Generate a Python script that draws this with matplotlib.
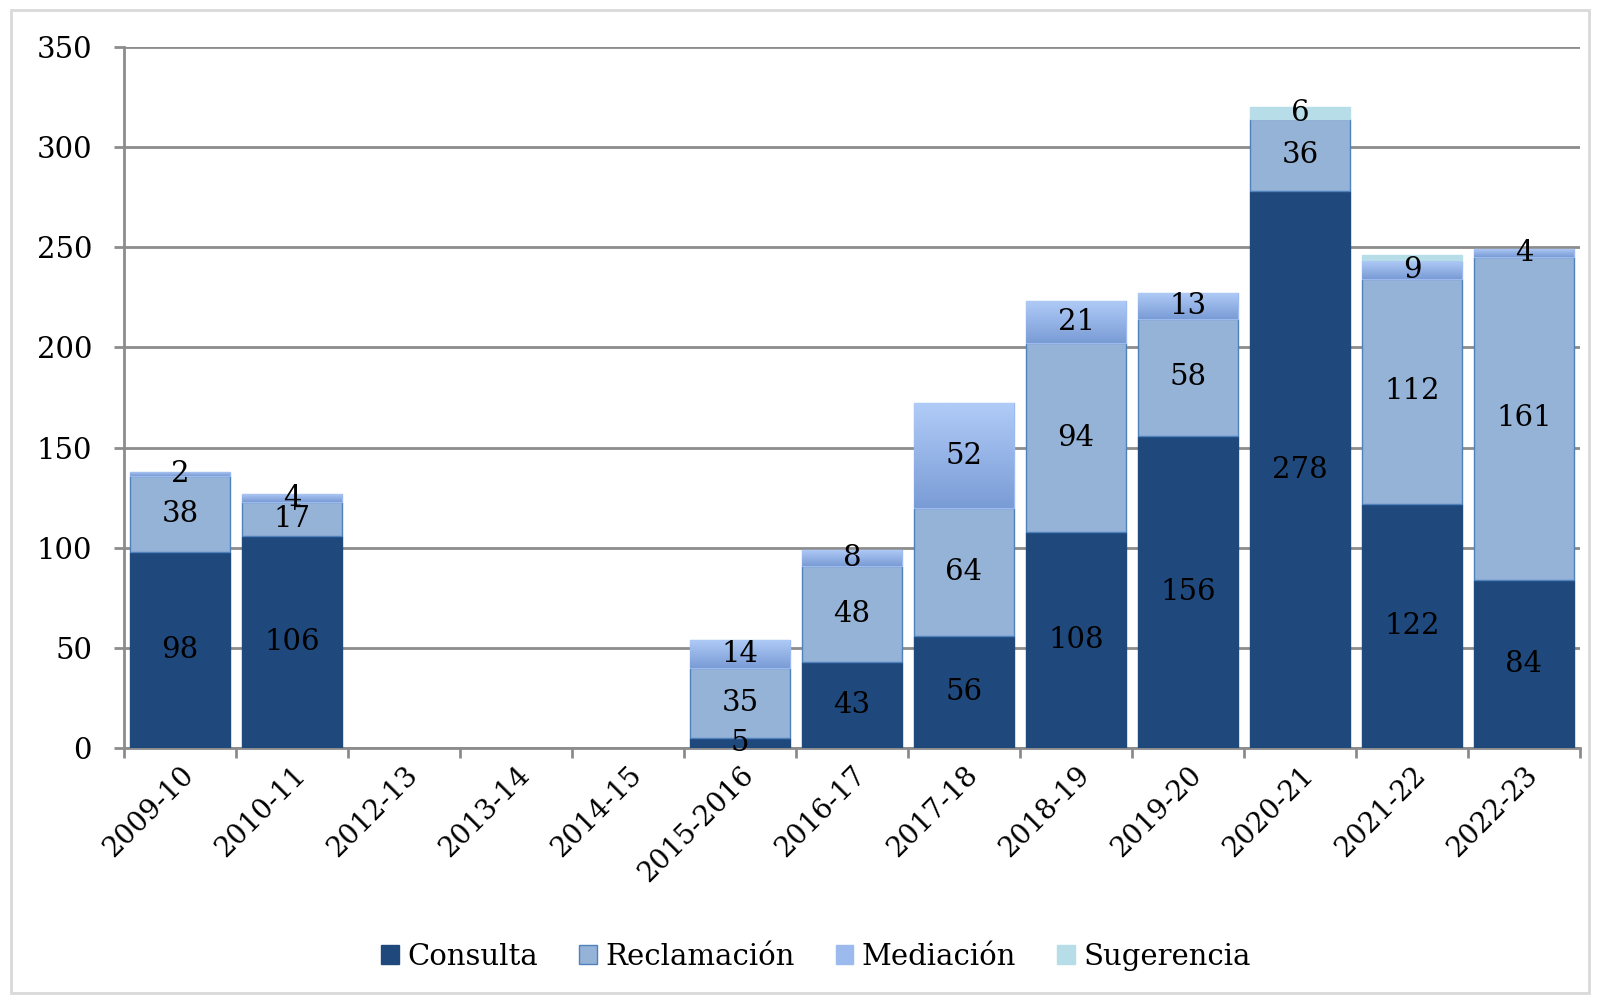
import numpy as np
import matplotlib.pyplot as plt
from matplotlib.patches import Rectangle
from matplotlib.colors import LinearSegmentedColormap

# Datos
periodos = ['2009-10', '2010-11', '2012-13', '2013-14', '2014-15', '2015-2016',
            '2016-17', '2017-18', '2018-19', '2019-20', '2020-21', '2021-22', '2022-23']
consulta = [98, 106, 0, 0, 0, 5, 43, 56, 108, 156, 278, 122, 84]
reclamacion = [38, 17, 0, 0, 0, 35, 48, 64, 94, 58, 36, 112, 161]
mediacion = [2, 4, 0, 0, 0, 14, 8, 52, 21, 13, 0, 9, 4]
sugerencia = [0, 0, 0, 0, 0, 0, 0, 0, 0, 0, 6, 3, 0]
# etiquetas visibles de Sugerencia (la de 2021-22 no aparece)
sug_etiqueta = [None] * 10 + [6, None, None]

plt.rcParams['font.family'] = ['DejaVu Serif']

fig = plt.figure(figsize=(16, 10.05), dpi=100)
ax = fig.add_axes([0.0775, 0.256, 0.91, 0.697])

# borde exterior gris claro
fig.patches.append(Rectangle((0.007, 0.012), 0.986, 0.978, transform=fig.transFigure,
                             fill=False, edgecolor='#d9d9d9', linewidth=2))

x = np.arange(len(periodos))
w = 0.89
series = [
    ('Consulta', consulta, '#1F497D', '#1F497D'),
    ('Reclamación', reclamacion, '#95B3D7', '#4F81BD'),
    ('Mediación', mediacion, '#9DBAEF', '#9DBAEF'),
    ('Sugerencia', sugerencia, '#B7DEE8', '#B7DEE8'),
]
grad = LinearSegmentedColormap.from_list('med', ['#7A9CD6', '#B0CBF7'])

base = np.zeros(len(periodos))
for nombre, vals, color, borde in series:
    vals = np.array(vals, dtype=float)
    vis = vals > 0
    barras = ax.bar(x[vis], vals[vis], w, bottom=base[vis], color=color, edgecolor=borde,
                    linewidth=1, label=nombre, zorder=3)
    if nombre == 'Mediación':
        # degradado vertical dentro de cada barra
        for b in barras:
            x0, y0 = b.get_x(), b.get_y()
            im = ax.imshow(np.linspace(0, 1, 64).reshape(-1, 1), cmap=grad, origin='lower',
                           aspect='auto', extent=(x0, x0 + w, y0, y0 + b.get_height()),
                           zorder=3.5)
            im.set_clip_path(b)
    for i, v in enumerate(vals):
        if v <= 0:
            continue
        if nombre == 'Sugerencia' and sug_etiqueta[i] is None:
            continue
        ax.text(x[i], base[i] + v / 2, f'{int(v)}', ha='center', va='center',
                fontsize=21, color='black', zorder=5)
    base += vals

ax.set_xlim(-0.5, len(periodos) - 0.5)
ax.set_ylim(0, 350)
ax.set_yticks(np.arange(0, 351, 50))
ax.yaxis.grid(True, color='#8c8c8c', linewidth=2)
ax.set_axisbelow(True)

ax.set_xticks(x)
ax.set_xticklabels(periodos, rotation=45, ha='right', rotation_mode='anchor', fontsize=20)
ax.tick_params(axis='x', length=0, pad=10)
ax.set_xticks(np.arange(-0.5, len(periodos)), minor=True)
ax.tick_params(axis='x', which='minor', length=7, width=2, color='#8c8c8c', direction='out')
ax.tick_params(axis='y', labelsize=21, length=7, width=2, color='#8c8c8c', pad=16)

for lado in ['top', 'right']:
    ax.spines[lado].set_visible(False)
for lado in ['left', 'bottom']:
    ax.spines[lado].set_color('#8c8c8c')
    ax.spines[lado].set_linewidth(2)

fig.legend(loc='center', bbox_to_anchor=(0.51, 0.048), ncol=4, frameon=False,
           fontsize=21, handlelength=0.6, handleheight=0.6, handletextpad=0.3,
           columnspacing=1.4)

fig.savefig('out.png', dpi=100)
